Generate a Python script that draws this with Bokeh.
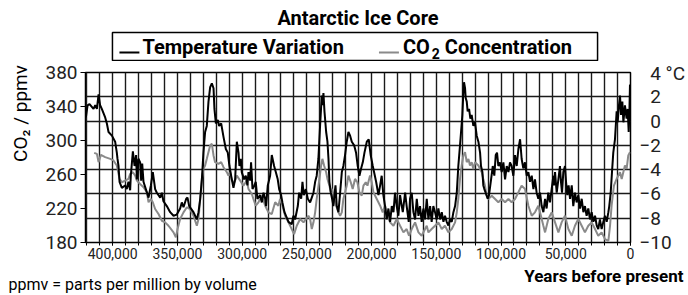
from bokeh.plotting import figure
from bokeh.models import Range1d, LinearAxis, FixedTicker, NumeralTickFormatter, Grid
from bokeh.layouts import column, row
from bokeh.core.properties import value
from bokeh.embed import file_html
from bokeh.resources import INLINE

FONT = "Roboto"

# ---- data ----
temp_year = [420700, 419400, 417900, 414800, 413500, 412200, 410900, 409700, 408400, 405800,
             404500, 403200, 400600, 398100, 396800, 396300, 395500, 394700, 392900, 390400,
             389100, 387800, 386500, 386000, 384400, 383100, 381900, 381300, 380100, 378800,
             378000, 377200, 376200, 374400, 372300, 370500, 369000, 367200, 365900, 363300,
             362000, 360800, 358200, 355600, 353000, 350500, 347900, 346600, 345300, 343200,
             342200, 340900, 337600, 335000,
             333700, 332400, 331100, 329900, 328600, 327300, 326000, 324700, 323400, 322100,
             321400, 320300, 318800, 317800, 316200, 314400, 312600, 311100, 309800, 308500,
             306700, 305400, 304100, 302800, 302100, 301000, 300300, 298500, 297200, 295900,
             295100, 293800, 293100, 292000, 290500, 289500, 288200, 286100, 284800, 283500,
             282200, 281500, 280200, 278400, 277100, 275300, 274000, 272500, 271400, 269900,
             268900, 267300, 264200, 261700, 260400, 259100, 257000, 256000, 254400, 253400,
             252400, 250800, 249300, 247500,
             246200, 244900, 243600, 242400, 241100, 239800, 238500, 238000, 237200, 236400,
             235100, 234100, 233300, 232600, 231500, 230500, 229500, 228700, 227900, 226900,
             225600, 224300, 223000, 221800, 220500, 219200, 217900, 216600, 215300, 213500,
             212000, 210700, 209400, 208100, 206800, 205500, 203700, 202200, 200700, 199100,
             198100, 196500, 194700, 193400, 192200, 190900, 189600, 188300, 187000, 185700,
             184400, 183100, 181900, 180600, 179300, 178000, 176700, 175900, 174100, 172900,
             171300, 170300, 169000, 167700, 166400, 165100, 163800, 162600, 161300, 160000,
             158700,
             157400, 156100, 154800, 153600, 152300, 151000, 149700, 148400, 147100, 145800,
             144500, 143300, 142000, 140700, 139400, 138100, 136800, 135500, 134200, 133000,
             131700, 130900, 129900, 129100, 128600, 127800, 127300, 126500, 125800, 124700,
             123700, 122700, 121400, 120100, 118800, 117500, 116200, 115500, 114400, 113700,
             112900, 111900, 110300, 109300, 107700, 106400, 105200, 104100, 103100, 102100,
             100800, 99500, 98200, 96900, 95600, 94300, 93100, 91800, 90500, 89200,
             87900, 86600, 85300, 84100, 82800, 81500, 80200, 78900, 77600, 76300,
             75000, 73800, 72500, 71200, 69900,
             68600, 67300, 66000, 64800, 63500, 62200, 60900, 59600, 59100, 58300,
             57000, 55700, 54500, 53700, 52900, 51900, 50600, 49800, 48800, 47800,
             46700, 45400, 44200, 42900, 41600, 40300, 39000, 37700, 36400, 35200,
             33900, 32600, 31300, 30000, 28700, 27400, 26100, 24900, 23600, 22300,
             21000, 19700, 18400, 17100, 16400, 15300, 14300, 13300, 12000, 10700,
             9900, 8900, 8100, 7300, 6300, 5500, 4300, 3000, 2200, 1400,
             900, 400]

temp_c = [0.3, 1.3, 1.4, 1.0, 1.3, 1.0, 2.2, 1.3, 1.0, 0.3,
          -0.2, -0.9, -1.2, -1.7, -2.6, -3.1, -3.7, -5.0, -5.5, -5.3,
          -5.6, -5.0, -5.7, -4.5, -2.5, -3.7, -2.8, -4.8, -3.1, -3.4,
          -4.9, -3.5, -5.0, -5.6, -6.3, -5.3, -4.2, -5.6, -5.9, -6.3,
          -5.9, -6.6, -7.0, -7.5, -7.8, -7.7, -7.2, -6.7, -7.1, -6.4,
          -6.3, -7.0, -7.5, -8.1,
          -7.5, -6.4, -4.8, -2.6, -0.9, -0.4, 1.6, 2.8, 3.1, 2.7,
          1.0, -0.2, 0.1, -0.4, -0.2, -1.3, -2.3, -2.6, -3.7, -4.5,
          -5.5, -4.8, -1.7, -2.6, -3.7, -3.1, -4.2, -4.8, -4.5, -5.3,
          -4.2, -4.9, -3.4, -5.6, -5.3, -5.0, -6.4, -6.1, -6.7, -5.9,
          -6.4, -7.0, -5.3, -4.5, -2.8, -3.7, -4.2, -4.8, -5.6, -6.1,
          -6.7, -7.5, -8.3, -8.5, -7.8, -8.1, -7.0, -5.9, -6.4, -5.0,
          -6.1, -5.6, -6.4, -6.7,
          -6.3, -5.9, -5.0, -4.5, -3.1, -0.4, 2.1, 1.3, 2.3, 0.8,
          -0.9, -1.7, -3.1, -5.0, -5.9, -6.4, -7.0, -6.1, -5.3, -7.0,
          -7.5, -5.9, -4.2, -3.7, -2.8, -1.7, -0.9, -1.2, -1.7, -2.0,
          -2.6, -3.7, -4.5, -3.9, -3.4, -2.6, -1.7, -1.5, -2.8, -3.7,
          -4.2, -5.0, -6.1, -5.3, -4.5, -6.1, -7.0, -8.1, -7.2, -8.3,
          -7.0, -7.5, -5.9, -7.0, -7.8, -6.1, -7.0, -7.5, -5.9, -7.0,
          -8.3, -6.4, -5.9, -7.5, -8.1, -6.4, -7.8, -7.0, -8.3, -7.2,
          -8.1,
          -6.4, -8.1, -7.0, -8.3, -7.0, -7.5, -8.1, -7.2, -8.1, -7.5,
          -8.3, -7.8, -8.3, -8.6, -8.1, -8.3, -7.5, -7.0, -5.9, -3.7,
          -2.0, -0.9, 0.5, 2.4, 3.2, 2.7, 1.9, 1.6, 0.8, 1.0,
          0.2, 0.5, -0.4, -0.1, -1.2, -1.7, -2.6, -3.7, -4.2, -5.3,
          -5.6, -5.9, -6.4, -6.1, -4.8, -3.7, -4.5, -2.8, -2.6, -3.7,
          -3.4, -4.2, -3.4, -4.8, -3.7, -4.2, -3.4, -3.7, -4.5, -2.8,
          -3.7, -2.3, -1.5, -3.1, -3.9, -3.4, -4.5, -4.2, -5.0, -4.5,
          -5.6, -4.8, -5.9, -6.4, -5.9,
          -7.0, -7.5, -6.4, -7.2, -5.9, -6.7, -5.6, -4.5, -5.3, -4.2,
          -5.9, -4.8, -3.7, -5.0, -5.9, -4.2, -3.7, -5.0, -6.1, -5.3,
          -6.4, -5.3, -7.0, -5.9, -6.7, -6.1, -7.2, -6.4, -7.5, -7.0,
          -7.8, -7.2, -8.1, -7.5, -8.3, -7.8, -8.6, -8.9, -8.1, -8.9,
          -8.3, -7.8, -8.3, -7.5, -7.0, -5.9, -4.2, -2.6, -1.5, 0.8,
          -0.1, 1.3, 2.1, 0.5, 1.6, -0.1, 1.3, 0.2, 1.0, -0.9,
          0.5, 3.0]

co2_year = [414300, 412200, 410900, 409100, 405800, 401900, 399400, 396800, 394700, 392900,
            390400, 387800, 386500, 384400, 382600, 381300, 378800, 376200, 373600, 372300,
            370500, 369000, 367200, 364600, 362000, 359500, 356900, 353000, 351200, 349900,
            347900, 345300, 342700, 340200, 337600, 335000,
            333700, 332400, 331100, 329900, 328600, 327300, 324700, 323400, 322100, 320900,
            318300, 316200, 314400, 311800, 310600, 309300, 308000, 305900, 304100, 301500,
            299000, 296400, 295100, 292500, 291300, 289500, 287400, 284800, 282200, 279700,
            277100, 274500, 272000, 270700, 268900, 266800, 264200, 261700, 259900, 257800,
            255200, 252600, 248800,
            247500, 246200, 244900, 243600, 242400, 240300, 239000, 238000, 236700, 235100,
            234100, 232600, 231500, 230500, 229500, 227400, 225600, 224300, 223000, 221800,
            220500, 219200, 217900, 216100, 214600, 212800, 211000, 209400, 207600, 206300,
            204500, 203200, 201200, 199900, 198600, 196000, 193400, 191400, 189600, 187800,
            185700, 183100, 180600, 178000, 175400, 172900, 171100, 169000, 166400, 163800,
            161300, 158700,
            157400, 156100, 153600, 151000, 148400, 145800, 143300, 140700, 138100, 135500,
            134200, 133000, 131700, 130400, 129100, 127800, 126500, 125200, 124000, 122700,
            121400, 120100, 117500, 114900, 113700, 112400, 111100, 109800, 107200, 104600,
            102100, 99500, 96900, 94300, 91800, 89200, 86600, 84100, 81500, 78900,
            76300, 73800, 71200,
            69900, 67300, 66000, 63500, 60900, 58300, 55700, 53200, 50600, 48000,
            45400, 42900, 40300, 37700, 35200, 32600, 30000, 27400, 24900, 22300,
            19700, 17100, 15800, 14600, 12800, 10700, 8100, 6800, 4300, 3000,
            1700, 400]

co2_ppmv = [285.5, 284.3, 274.5, 283.1, 280.4, 278.4, 276.5, 270.6, 254.8, 250.9,
            252.8, 254.8, 260.7, 262.7, 258.7, 252.8, 248.9, 245.0, 239.1, 227.3,
            231.2, 227.3, 219.4, 213.5, 205.6, 203.7, 199.7, 191.9, 186.0, 195.8,
            207.6, 215.5, 221.4, 219.4, 211.5, 199.7,
            207.6, 231.2, 254.8, 266.6, 270.6, 278.4, 294.2, 296.1, 282.4, 274.5,
            272.5, 274.5, 268.6, 262.7, 258.7, 262.7, 252.8, 250.9, 258.7, 252.8,
            246.9, 252.8, 243.0, 237.1, 231.2, 223.3, 227.3, 235.1, 223.3, 215.5,
            213.5, 227.3, 223.3, 231.2, 223.3, 211.5, 203.7, 195.8, 189.9, 199.7,
            207.6, 203.7, 211.5,
            207.6, 195.8, 203.7, 215.5, 231.2, 254.8, 270.6, 278.4, 270.6, 262.7,
            254.8, 246.9, 239.1, 243.0, 235.1, 223.3, 215.5, 211.5, 215.5, 231.2,
            239.1, 246.9, 258.7, 250.9, 243.0, 254.8, 250.9, 239.1, 235.1, 246.9,
            250.9, 246.9, 258.7, 250.9, 239.1, 231.2, 223.3, 215.5, 223.3, 211.5,
            203.7, 199.7, 207.6, 199.7, 191.9, 195.8, 187.9, 195.8, 203.7, 191.9,
            187.9, 195.8,
            199.7, 191.9, 195.8, 199.7, 203.7, 195.8, 199.7, 191.9, 195.8, 203.7,
            215.5, 231.2, 254.8, 270.6, 282.4, 286.3, 274.5, 278.4, 270.6, 274.5,
            266.6, 274.5, 270.6, 262.7, 254.8, 246.9, 235.1, 231.2, 235.1, 231.2,
            227.3, 231.2, 227.3, 231.2, 227.3, 231.2, 239.1, 246.9, 243.0, 223.3,
            211.5, 215.5, 223.3,
            215.5, 199.7, 191.9, 207.6, 215.5, 203.7, 191.9, 203.7, 211.5, 195.8,
            187.9, 199.7, 207.6, 199.7, 191.9, 199.7, 203.7, 195.8, 187.9, 191.9,
            184.0, 182.0, 199.7, 223.3, 246.9, 254.8, 262.7, 254.8, 270.6, 266.6,
            282.4, 286.3]

x_tick_values = [400000, 350000, 300000, 250000, 200000, 150000, 100000, 50000, 0]
x_grid_values = list(range(0, 420001, 10000))
co2_tick_values = [180, 220, 260, 300, 340, 380]
temp_tick_values = [-10, -8, -6, -4, -2, 0, 2, 4]

PAGE_W = 688
LEFT_W = 34          # strip holding the left axis title
HEAD_H = 61          # title / legend strip
MAIN_H = 203         # the chart itself
FOOT_H = 31          # footer strip
MAIN_W = PAGE_W - LEFT_W
FRAME_L, FRAME_R, FRAME_T, FRAME_B = 85, 631, 72, 242   # page pixels


def blank_fig(w, h, border_l=0, border_r=0):
    f = figure(width=w, height=h, output_backend="svg", toolbar_location=None,
               x_axis_location=None, y_axis_location=None,
               min_border=0, min_border_left=border_l, min_border_right=border_r,
               min_border_top=0, min_border_bottom=0)
    f.grid.visible = False
    f.outline_line_color = None
    f.background_fill_color = "white"
    f.border_fill_color = "white"
    return f


def put_text(f, x, y, text, size, bold=False, align="left", angle=0.0):
    f.text(x=[x], y=[y], text=[text], text_font=value(FONT), text_font_size=value(size),
           text_font_style=value("bold" if bold else "normal"), text_color="black",
           text_align=align, text_baseline="middle", angle=angle)


# ---- main chart ----
p = figure(width=MAIN_W, height=MAIN_H, output_backend="svg", toolbar_location=None,
           x_range=Range1d(421000, 0), y_range=Range1d(-10, 4),
           x_axis_location=None, y_axis_location=None,
           min_border_left=FRAME_L - LEFT_W, min_border_right=PAGE_W - FRAME_R,
           min_border_top=FRAME_T - HEAD_H, min_border_bottom=HEAD_H + MAIN_H - FRAME_B)
p.extra_y_ranges = {"co2": Range1d(180, 380)}
p.grid.visible = False
p.outline_line_color = "black"
p.outline_line_width = 1.5
p.background_fill_color = "white"
p.border_fill_color = "white"

p.add_layout(Grid(dimension=0, ticker=FixedTicker(ticks=x_grid_values),
                  grid_line_color="#1a1a1a", grid_line_width=1.4))
p.add_layout(Grid(dimension=1, ticker=FixedTicker(ticks=temp_tick_values),
                  grid_line_color="#1a1a1a", grid_line_width=1.4))

xa = LinearAxis(ticker=FixedTicker(ticks=x_tick_values, minor_ticks=x_grid_values),
                formatter=NumeralTickFormatter(format="0,0"))
xa.axis_line_color = "black"
xa.major_tick_in = 0
xa.major_tick_out = 3
xa.minor_tick_in = 0
xa.minor_tick_out = 3
xa.major_label_standoff = 2
xa.major_label_text_font = FONT
xa.major_label_text_font_size = "14px"
xa.major_label_text_color = "#222222"
p.add_layout(xa, "below")

la = LinearAxis(y_range_name="co2", ticker=FixedTicker(ticks=co2_tick_values))
la.axis_line_color = "black"
la.major_tick_in = 0
la.major_tick_out = 5
la.minor_tick_line_color = None
la.major_label_standoff = 3
la.major_label_text_font = FONT
la.major_label_text_font_size = "19px"
la.major_label_text_color = "#222222"
p.add_layout(la, "left")

overrides = {}
for t in temp_tick_values:
    overrides[t] = ("\u2212" + str(abs(t))) if t < 0 else ("\u2007" + str(t))
overrides[4] = "\u20074 \u00b0C"
ra = LinearAxis(ticker=FixedTicker(ticks=temp_tick_values), major_label_overrides=overrides)
ra.axis_line_color = None
ra.major_tick_in = 0
ra.major_tick_out = 0
ra.minor_tick_line_color = None
ra.major_label_standoff = 9
ra.major_label_text_font = FONT
ra.major_label_text_font_size = "19px"
ra.major_label_text_color = "#222222"
p.add_layout(ra, "right")

p.line(co2_year, co2_ppmv, y_range_name="co2", line_color="#8a8a8a", line_width=2)
p.line(temp_year, temp_c, line_color="black", line_width=2)

# ---- header: title and legend; its frame is lined up with the chart frame ----
head = blank_fig(MAIN_W, HEAD_H, border_l=FRAME_L - LEFT_W, border_r=PAGE_W - FRAME_R)
head.x_range = Range1d(FRAME_L, FRAME_R)      # page x inside the frame
head.y_range = Range1d(HEAD_H, 0)             # page y, growing downward
put_text(head, 358, 17, "Antarctic Ice Core", "20px", bold=True, align="center")
head.quad(left=[112], right=[598], top=[32], bottom=[60],
          fill_color="white", line_color="black", line_width=1.5)
head.segment(x0=[119], y0=[52], x1=[139], y1=[52], line_color="black", line_width=2)
put_text(head, 142, 46, "Temperature Variation", "20px", bold=True)
head.segment(x0=[379], y0=[52], x1=[399], y1=[52], line_color="#8a8a8a", line_width=2)
put_text(head, 403, 46, "CO", "20px", bold=True)
put_text(head, 432, 53, "2", "14px", bold=True)
put_text(head, 445, 46, "Concentration", "20px", bold=True)

# ---- left strip: CO2 axis title ----
left = blank_fig(LEFT_W, HEAD_H + MAIN_H)
left.x_range = Range1d(0, LEFT_W)
left.y_range = Range1d(HEAD_H + MAIN_H, 0)
put_text(left, 20, 113, "CO\u2082 / ppmv", "19px", align="center", angle=1.5708)

# ---- footer ----
foot = blank_fig(PAGE_W, FOOT_H)
foot.x_range = Range1d(0, PAGE_W)
foot.y_range = Range1d(HEAD_H + MAIN_H + FOOT_H, HEAD_H + MAIN_H)
put_text(foot, 683, 275, "Years before present", "17px", bold=True, align="right")
put_text(foot, 8, 284, "ppmv = parts per million by volume", "16px")

layout = column(row(left, column(head, p)), foot)
open("out.html", "w").write(file_html(layout, INLINE))
